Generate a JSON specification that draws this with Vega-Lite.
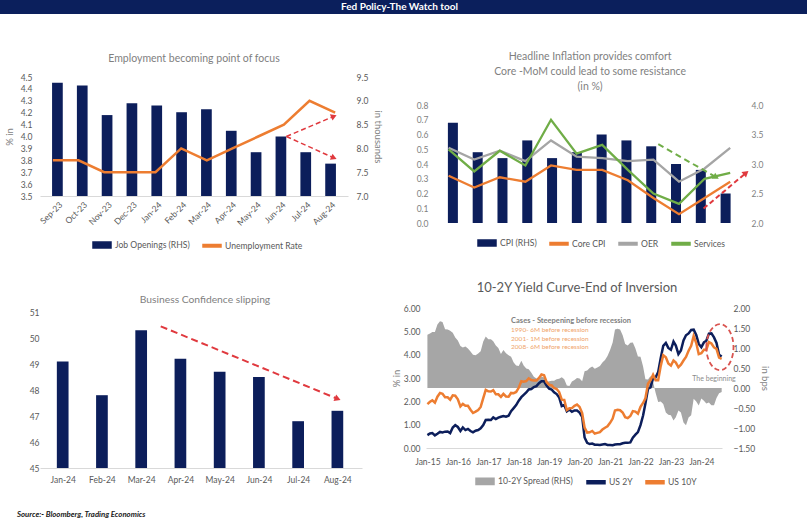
{
  "$schema": "https://vega.github.io/schema/vega-lite/v6.json",
  "padding": 0,
  "background": "white",
  "spacing": 0,
  "resolve": {"scale": {"x": "independent", "y": "independent", "color": "independent"}},
  "title": {"text": "Source:- Bloomberg, Trading Economics", "orient": "bottom", "anchor": "start", "frame": "bounds", "offset": 23, "dx": 17, "fontSize": 7.8, "fontStyle": "italic", "fontWeight": "bold", "color": "#1a1a1a", "font": "Lato"},
  "datasets": {
    "tl": [
      {"i": 1, "m": "Sep-23", "jo": 9.38, "ur": 3.8},
      {"i": 2, "m": "Oct-23", "jo": 9.32, "ur": 3.8},
      {"i": 3, "m": "Nov-23", "jo": 8.70, "ur": 3.7},
      {"i": 4, "m": "Dec-23", "jo": 8.95, "ur": 3.7},
      {"i": 5, "m": "Jan-24", "jo": 8.90, "ur": 3.7},
      {"i": 6, "m": "Feb-24", "jo": 8.76, "ur": 3.9},
      {"i": 7, "m": "Mar-24", "jo": 8.82, "ur": 3.8},
      {"i": 8, "m": "Apr-24", "jo": 8.37, "ur": 3.9},
      {"i": 9, "m": "May-24", "jo": 7.92, "ur": 4.0},
      {"i": 10, "m": "Jun-24", "jo": 8.25, "ur": 4.1},
      {"i": 11, "m": "Jul-24", "jo": 7.92, "ur": 4.3},
      {"i": 12, "m": "Aug-24", "jo": 7.68, "ur": 4.2}
    ],
    "tr": [
      {"i": 1, "cpi": 3.7}, {"i": 2, "cpi": 3.2}, {"i": 3, "cpi": 3.1}, {"i": 4, "cpi": 3.4},
      {"i": 5, "cpi": 3.1}, {"i": 6, "cpi": 3.2}, {"i": 7, "cpi": 3.5}, {"i": 8, "cpi": 3.4},
      {"i": 9, "cpi": 3.3}, {"i": 10, "cpi": 3.0}, {"i": 11, "cpi": 2.9}, {"i": 12, "cpi": 2.5}
    ],
    "trl": [
      {"i": 1, "s": "Core CPI", "v": 0.32}, {"i": 2, "s": "Core CPI", "v": 0.24}, {"i": 3, "s": "Core CPI", "v": 0.31}, {"i": 4, "s": "Core CPI", "v": 0.28},
      {"i": 5, "s": "Core CPI", "v": 0.39}, {"i": 6, "s": "Core CPI", "v": 0.36}, {"i": 7, "s": "Core CPI", "v": 0.36}, {"i": 8, "s": "Core CPI", "v": 0.29},
      {"i": 9, "s": "Core CPI", "v": 0.17}, {"i": 10, "s": "Core CPI", "v": 0.06}, {"i": 11, "s": "Core CPI", "v": 0.17}, {"i": 12, "s": "Core CPI", "v": 0.28},
      {"i": 1, "s": "OER", "v": 0.51}, {"i": 2, "s": "OER", "v": 0.43}, {"i": 3, "s": "OER", "v": 0.49}, {"i": 4, "s": "OER", "v": 0.42},
      {"i": 5, "s": "OER", "v": 0.56}, {"i": 6, "s": "OER", "v": 0.45}, {"i": 7, "s": "OER", "v": 0.44}, {"i": 8, "s": "OER", "v": 0.42},
      {"i": 9, "s": "OER", "v": 0.43}, {"i": 10, "s": "OER", "v": 0.28}, {"i": 11, "s": "OER", "v": 0.37}, {"i": 12, "s": "OER", "v": 0.51},
      {"i": 1, "s": "Services", "v": 0.50}, {"i": 2, "s": "Services", "v": 0.35}, {"i": 3, "s": "Services", "v": 0.49}, {"i": 4, "s": "Services", "v": 0.39},
      {"i": 5, "s": "Services", "v": 0.70}, {"i": 6, "s": "Services", "v": 0.47}, {"i": 7, "s": "Services", "v": 0.53}, {"i": 8, "s": "Services", "v": 0.36},
      {"i": 9, "s": "Services", "v": 0.20}, {"i": 10, "s": "Services", "v": 0.13}, {"i": 11, "s": "Services", "v": 0.30}, {"i": 12, "s": "Services", "v": 0.34}
    ],
    "bl": [
      {"i": 1, "v": 49.1}, {"i": 2, "v": 47.8}, {"i": 3, "v": 50.3}, {"i": 4, "v": 49.2},
      {"i": 5, "v": 48.7}, {"i": 6, "v": 48.5}, {"i": 7, "v": 46.8}, {"i": 8, "v": 47.2}
    ],
    "br": [
      {"d":"2015-01-01","y2":0.55,"y10":1.88,"sp":1.33},
      {"d":"2015-02-01","y2":0.62,"y10":1.98,"sp":1.36},
      {"d":"2015-03-01","y2":0.64,"y10":2.04,"sp":1.40},
      {"d":"2015-04-01","y2":0.54,"y10":1.94,"sp":1.40},
      {"d":"2015-05-01","y2":0.61,"y10":2.20,"sp":1.59},
      {"d":"2015-06-01","y2":0.69,"y10":2.36,"sp":1.67},
      {"d":"2015-07-01","y2":0.67,"y10":2.32,"sp":1.65},
      {"d":"2015-08-01","y2":0.70,"y10":2.17,"sp":1.47},
      {"d":"2015-09-01","y2":0.71,"y10":2.17,"sp":1.46},
      {"d":"2015-10-01","y2":0.64,"y10":2.07,"sp":1.43},
      {"d":"2015-11-01","y2":0.88,"y10":2.26,"sp":1.38},
      {"d":"2015-12-01","y2":0.98,"y10":2.24,"sp":1.26},
      {"d":"2016-01-01","y2":0.90,"y10":2.09,"sp":1.19},
      {"d":"2016-02-01","y2":0.73,"y10":1.78,"sp":1.05},
      {"d":"2016-03-01","y2":0.88,"y10":1.89,"sp":1.01},
      {"d":"2016-04-01","y2":0.77,"y10":1.81,"sp":1.04},
      {"d":"2016-05-01","y2":0.82,"y10":1.81,"sp":0.99},
      {"d":"2016-06-01","y2":0.73,"y10":1.64,"sp":0.91},
      {"d":"2016-07-01","y2":0.67,"y10":1.50,"sp":0.83},
      {"d":"2016-08-01","y2":0.74,"y10":1.56,"sp":0.82},
      {"d":"2016-09-01","y2":0.77,"y10":1.63,"sp":0.86},
      {"d":"2016-10-01","y2":0.84,"y10":1.76,"sp":0.92},
      {"d":"2016-11-01","y2":0.98,"y10":2.14,"sp":1.16},
      {"d":"2016-12-01","y2":1.20,"y10":2.49,"sp":1.29},
      {"d":"2017-01-01","y2":1.21,"y10":2.43,"sp":1.22},
      {"d":"2017-02-01","y2":1.20,"y10":2.42,"sp":1.22},
      {"d":"2017-03-01","y2":1.31,"y10":2.48,"sp":1.17},
      {"d":"2017-04-01","y2":1.24,"y10":2.30,"sp":1.06},
      {"d":"2017-05-01","y2":1.30,"y10":2.30,"sp":1.00},
      {"d":"2017-06-01","y2":1.34,"y10":2.19,"sp":0.85},
      {"d":"2017-07-01","y2":1.37,"y10":2.32,"sp":0.95},
      {"d":"2017-08-01","y2":1.34,"y10":2.21,"sp":0.87},
      {"d":"2017-09-01","y2":1.38,"y10":2.20,"sp":0.82},
      {"d":"2017-10-01","y2":1.58,"y10":2.36,"sp":0.78},
      {"d":"2017-11-01","y2":1.71,"y10":2.35,"sp":0.64},
      {"d":"2017-12-01","y2":1.84,"y10":2.40,"sp":0.56},
      {"d":"2018-01-01","y2":2.03,"y10":2.58,"sp":0.55},
      {"d":"2018-02-01","y2":2.18,"y10":2.86,"sp":0.68},
      {"d":"2018-03-01","y2":2.28,"y10":2.84,"sp":0.56},
      {"d":"2018-04-01","y2":2.38,"y10":2.87,"sp":0.49},
      {"d":"2018-05-01","y2":2.51,"y10":2.98,"sp":0.47},
      {"d":"2018-06-01","y2":2.53,"y10":2.91,"sp":0.38},
      {"d":"2018-07-01","y2":2.61,"y10":2.89,"sp":0.28},
      {"d":"2018-08-01","y2":2.65,"y10":2.89,"sp":0.24},
      {"d":"2018-09-01","y2":2.78,"y10":3.00,"sp":0.22},
      {"d":"2018-10-01","y2":2.86,"y10":3.15,"sp":0.29},
      {"d":"2018-11-01","y2":2.86,"y10":3.12,"sp":0.26},
      {"d":"2018-12-01","y2":2.68,"y10":2.83,"sp":0.15},
      {"d":"2019-01-01","y2":2.54,"y10":2.71,"sp":0.17},
      {"d":"2019-02-01","y2":2.50,"y10":2.68,"sp":0.18},
      {"d":"2019-03-01","y2":2.39,"y10":2.57,"sp":0.18},
      {"d":"2019-04-01","y2":2.31,"y10":2.53,"sp":0.22},
      {"d":"2019-05-01","y2":2.17,"y10":2.40,"sp":0.23},
      {"d":"2019-06-01","y2":1.80,"y10":2.07,"sp":0.27},
      {"d":"2019-07-01","y2":1.84,"y10":2.06,"sp":0.22},
      {"d":"2019-08-01","y2":1.57,"y10":1.63,"sp":0.06},
      {"d":"2019-09-01","y2":1.65,"y10":1.70,"sp":0.05},
      {"d":"2019-10-01","y2":1.55,"y10":1.71,"sp":0.16},
      {"d":"2019-11-01","y2":1.61,"y10":1.81,"sp":0.20},
      {"d":"2019-12-01","y2":1.61,"y10":1.86,"sp":0.25},
      {"d":"2020-01-01","y2":1.52,"y10":1.76,"sp":0.24},
      {"d":"2020-02-01","y2":1.33,"y10":1.50,"sp":0.17},
      {"d":"2020-03-01","y2":0.45,"y10":0.87,"sp":0.42},
      {"d":"2020-04-01","y2":0.22,"y10":0.66,"sp":0.44},
      {"d":"2020-05-01","y2":0.17,"y10":0.67,"sp":0.50},
      {"d":"2020-06-01","y2":0.19,"y10":0.73,"sp":0.54},
      {"d":"2020-07-01","y2":0.14,"y10":0.62,"sp":0.48},
      {"d":"2020-08-01","y2":0.14,"y10":0.65,"sp":0.51},
      {"d":"2020-09-01","y2":0.13,"y10":0.68,"sp":0.55},
      {"d":"2020-10-01","y2":0.15,"y10":0.79,"sp":0.64},
      {"d":"2020-11-01","y2":0.17,"y10":0.87,"sp":0.70},
      {"d":"2020-12-01","y2":0.13,"y10":0.93,"sp":0.80},
      {"d":"2021-01-01","y2":0.13,"y10":1.08,"sp":0.95},
      {"d":"2021-02-01","y2":0.12,"y10":1.26,"sp":1.14},
      {"d":"2021-03-01","y2":0.15,"y10":1.61,"sp":1.46},
      {"d":"2021-04-01","y2":0.16,"y10":1.64,"sp":1.48},
      {"d":"2021-05-01","y2":0.16,"y10":1.62,"sp":1.46},
      {"d":"2021-06-01","y2":0.20,"y10":1.52,"sp":1.32},
      {"d":"2021-07-01","y2":0.22,"y10":1.32,"sp":1.10},
      {"d":"2021-08-01","y2":0.22,"y10":1.28,"sp":1.06},
      {"d":"2021-09-01","y2":0.24,"y10":1.37,"sp":1.13},
      {"d":"2021-10-01","y2":0.44,"y10":1.58,"sp":1.14},
      {"d":"2021-11-01","y2":0.57,"y10":1.56,"sp":0.99},
      {"d":"2021-12-01","y2":0.68,"y10":1.47,"sp":0.79},
      {"d":"2022-01-01","y2":0.98,"y10":1.76,"sp":0.78},
      {"d":"2022-02-01","y2":1.39,"y10":1.93,"sp":0.54},
      {"d":"2022-03-01","y2":1.91,"y10":2.13,"sp":0.22},
      {"d":"2022-04-01","y2":2.54,"y10":2.75,"sp":0.21},
      {"d":"2022-05-01","y2":2.60,"y10":2.90,"sp":0.30},
      {"d":"2022-06-01","y2":2.99,"y10":3.14,"sp":0.15},
      {"d":"2022-07-01","y2":3.02,"y10":2.90,"sp":-0.12},
      {"d":"2022-08-01","y2":3.25,"y10":2.90,"sp":-0.35},
      {"d":"2022-09-01","y2":3.86,"y10":3.52,"sp":-0.34},
      {"d":"2022-10-01","y2":4.38,"y10":3.98,"sp":-0.40},
      {"d":"2022-11-01","y2":4.50,"y10":3.89,"sp":-0.61},
      {"d":"2022-12-01","y2":4.29,"y10":3.62,"sp":-0.67},
      {"d":"2023-01-01","y2":4.21,"y10":3.53,"sp":-0.68},
      {"d":"2023-02-01","y2":4.56,"y10":3.75,"sp":-0.81},
      {"d":"2023-03-01","y2":4.39,"y10":3.66,"sp":-0.73},
      {"d":"2023-04-01","y2":4.02,"y10":3.46,"sp":-0.56},
      {"d":"2023-05-01","y2":4.18,"y10":3.57,"sp":-0.61},
      {"d":"2023-06-01","y2":4.61,"y10":3.75,"sp":-0.86},
      {"d":"2023-07-01","y2":4.83,"y10":3.90,"sp":-0.93},
      {"d":"2023-08-01","y2":4.91,"y10":4.17,"sp":-0.74},
      {"d":"2023-09-01","y2":5.06,"y10":4.38,"sp":-0.68},
      {"d":"2023-10-01","y2":5.07,"y10":4.80,"sp":-0.27},
      {"d":"2023-11-01","y2":4.84,"y10":4.50,"sp":-0.34},
      {"d":"2023-12-01","y2":4.46,"y10":4.02,"sp":-0.44},
      {"d":"2024-01-01","y2":4.32,"y10":4.06,"sp":-0.26},
      {"d":"2024-02-01","y2":4.53,"y10":4.21,"sp":-0.32},
      {"d":"2024-03-01","y2":4.60,"y10":4.21,"sp":-0.39},
      {"d":"2024-04-01","y2":4.90,"y10":4.54,"sp":-0.36},
      {"d":"2024-05-01","y2":4.91,"y10":4.48,"sp":-0.43},
      {"d":"2024-06-01","y2":4.74,"y10":4.31,"sp":-0.43},
      {"d":"2024-07-01","y2":4.50,"y10":4.25,"sp":-0.25},
      {"d":"2024-08-01","y2":4.00,"y10":3.87,"sp":-0.13},
      {"d":"2024-09-01","y2":3.92,"y10":3.82,"sp":-0.10}
    ]
  },
  "vconcat": [
    {
      "width": 807, "height": 14,
      "view": {"fill": "#0b1f5c", "stroke": null},
      "data": {"values": [{"t": "Fed Policy-The  Watch tool"}]},
      "mark": {"type": "text", "color": "white", "fontSize": 10, "fontWeight": "bold", "font": "Lato", "dx": -4},
      "encoding": {"text": {"field": "t"}}
    },
    {
      "columns": 4, "spacing": 0, "bounds": "flush", "align": "each",
      "resolve": {"scale": {"x": "independent", "y": "independent", "color": "independent"}},
      "concat": [
        {"width": 40, "height": 63, "data": {"values": []}, "mark": "point"},
        {"width": 1, "height": 1, "data": {"values": []}, "mark": "point"},
        {"width": 64, "height": 1, "data": {"values": []}, "mark": "point"},
        {"width": 1, "height": 1, "data": {"values": []}, "mark": "point"},
        {"width": 1, "height": 1, "data": {"values": []}, "mark": "point"},
        {
          "width": 308, "height": 119,
          "title": {"text": "Employment becoming point of focus", "offset": 8.5},
          "resolve": {"scale": {"x": "independent", "y": "independent"}},
          "layer": [
            {
              "data": {"name": "tl"},
              "mark": {"type": "bar", "size": 10.7},
              "encoding": {
                "x": {"field": "i", "type": "quantitative", "scale": {"domain": [0.5, 12.5], "nice": false, "zero": false},
                  "axis": {"title": null, "values": [1,2,3,4,5,6,7,8,9,10,11,12], "labelExpr": "['Sep-23','Oct-23','Nov-23','Dec-23','Jan-24','Feb-24','Mar-24','Apr-24','May-24','Jun-24','Jul-24','Aug-24'][datum.value-1]", "labelAngle": -45, "labelPadding": 4}},
                "y": {"field": "jo", "type": "quantitative", "scale": {"domain": [7, 9.5], "nice": false, "zero": false},
                  "axis": {"orient": "right", "title": "in thousands", "values": [7, 7.5, 8, 8.5, 9, 9.5], "format": ".1f", "labelPadding": 8, "titlePadding": 5}},
                "y2": {"datum": 7},
                "color": {"datum": "Job Openings (RHS)", "type": "nominal",
                  "scale": {"domain": ["Job Openings (RHS)", "Unemployment Rate"], "range": ["#0c1e5b", "#ed7d31"]},
                  "legend": {"orient": "none", "legendX": 52, "legendY": 158, "direction": "horizontal", "title": null, "symbolSize": 324, "symbolType": "M-1,-0.33H1V0.33H-1Z", "labelOffset": 3, "columnPadding": 10,
                    "encode": {"symbols": {"update": {
                      "shape": {"signal": "datum.value=='Job Openings (RHS)'?'M-1,-0.33H1V0.33H-1Z':'M-1,-0.14H1V0.14H-1Z'"},
                      "fill": {"signal": "datum.value=='Job Openings (RHS)'?'#0c1e5b':'#ed7d31'"},
                      "stroke": {"value": "transparent"}, "opacity": {"value": 1}}}}}}
              }
            },
            {
              "data": {"name": "tl"},
              "mark": {"type": "line", "strokeWidth": 2.5},
              "encoding": {
                "x": {"field": "i", "type": "quantitative", "scale": {"domain": [0.5, 12.5], "nice": false, "zero": false}, "axis": null},
                "y": {"field": "ur", "type": "quantitative", "scale": {"domain": [3.5, 4.5], "nice": false, "zero": false},
                  "axis": {"title": "% in", "values": [3.5,3.6,3.7,3.8,3.9,4.0,4.1,4.2,4.3,4.4,4.5], "format": ".1f", "labelPadding": 8, "titlePadding": 6}},
                "color": {"datum": "Unemployment Rate", "type": "nominal",
                  "legend": {"orient": "none", "legendX": 52, "legendY": 158, "direction": "horizontal", "title": null, "symbolSize": 324, "symbolType": "M-1,-0.33H1V0.33H-1Z", "labelOffset": 3, "columnPadding": 10,
                    "encode": {"symbols": {"update": {
                      "shape": {"signal": "datum.value=='Job Openings (RHS)'?'M-1,-0.33H1V0.33H-1Z':'M-1,-0.14H1V0.14H-1Z'"},
                      "fill": {"signal": "datum.value=='Job Openings (RHS)'?'#0c1e5b':'#ed7d31'"},
                      "stroke": {"value": "transparent"}, "opacity": {"value": 1}}}}}}
              }
            },
            {
              "data": {"values": [{"x1": 10.1, "y1": 4.0, "x2": 11.95, "y2": 4.17}, {"x1": 10.1, "y1": 4.0, "x2": 11.95, "y2": 3.82}]},
              "mark": {"type": "rule", "color": "#e0393e", "strokeWidth": 1.5, "strokeDash": [5, 3]},
              "encoding": {
                "x": {"field": "x1", "type": "quantitative", "scale": {"domain": [0.5, 12.5], "nice": false, "zero": false}, "axis": null},
                "x2": {"field": "x2"},
                "y": {"field": "y1", "type": "quantitative", "scale": {"domain": [3.5, 4.5], "nice": false, "zero": false}, "axis": null},
                "y2": {"field": "y2"}
              }
            },
            {
              "data": {"values": [{"x": 11.95, "y": 4.17}]},
              "mark": {"type": "point", "shape": "triangle-right", "filled": true, "color": "#e0393e", "opacity": 1, "size": 45, "angle": -23},
              "encoding": {
                "x": {"field": "x", "type": "quantitative", "scale": {"domain": [0.5, 12.5], "nice": false, "zero": false}, "axis": null},
                "y": {"field": "y", "type": "quantitative", "scale": {"domain": [3.5, 4.5], "nice": false, "zero": false}, "axis": null}
              }
            },
            {
              "data": {"values": [{"x": 11.95, "y": 3.82}]},
              "mark": {"type": "point", "shape": "triangle-right", "filled": true, "color": "#e0393e", "opacity": 1, "size": 45, "angle": 23},
              "encoding": {
                "x": {"field": "x", "type": "quantitative", "scale": {"domain": [0.5, 12.5], "nice": false, "zero": false}, "axis": null},
                "y": {"field": "y", "type": "quantitative", "scale": {"domain": [3.5, 4.5], "nice": false, "zero": false}, "axis": null}
              }
            }
          ]
        },
        {"width": 1, "height": 1, "data": {"values": []}, "mark": "point"},
        {
          "width": 317, "height": 146,
          "title": {"text": ["Headline Inflation provides comfort", "Core -MoM could lead to some resistance", "(in %)"], "offset": -15, "lineHeight": 15, "dx": 5.6},
          "resolve": {"scale": {"x": "independent", "y": "independent"}},
          "layer": [
            {
              "data": {"name": "tr"},
              "mark": {"type": "bar", "size": 10},
              "encoding": {
                "x": {"field": "i", "type": "quantitative", "scale": {"domain": [0.117, 12.5], "nice": false, "zero": false}, "axis": null},
                "y": {"field": "cpi", "type": "quantitative", "scale": {"domain": [2, 4.475], "nice": false, "zero": false},
                  "axis": {"orient": "right", "title": null, "values": [2, 2.5, 3, 3.5, 4], "format": ".1f", "labelPadding": 8, "labelColor": "#7f7f7f"}},
                "y2": {"datum": 2},
                "color": {"datum": "CPI (RHS)", "type": "nominal",
                  "scale": {"domain": ["CPI (RHS)", "Core CPI", "OER", "Services"], "range": ["#0c1e5b", "#ed7d31", "#a5a5a5", "#70ad47"]},
                  "legend": {"orient": "none", "legendX": 51, "legendY": 156, "direction": "horizontal", "title": null, "symbolSize": 324, "symbolType": "M-1,-0.33H1V0.33H-1Z", "labelOffset": 3, "columnPadding": 10,
                    "encode": {"symbols": {"update": {
                      "shape": {"signal": "datum.value=='CPI (RHS)'?'M-1,-0.33H1V0.33H-1Z':'M-1,-0.14H1V0.14H-1Z'"},
                      "fill": {"signal": "datum.value=='CPI (RHS)'?'#0c1e5b':datum.value=='Core CPI'?'#ed7d31':datum.value=='OER'?'#a5a5a5':'#70ad47'"},
                      "stroke": {"value": "transparent"}, "opacity": {"value": 1}}}}}}
              }
            },
            {
              "data": {"name": "trl"},
              "mark": {"type": "line", "strokeWidth": 2.3},
              "encoding": {
                "x": {"field": "i", "type": "quantitative", "scale": {"domain": [0.117, 12.5], "nice": false, "zero": false}, "axis": null},
                "y": {"field": "v", "type": "quantitative", "scale": {"domain": [0, 0.99], "nice": false, "zero": false},
                  "axis": {"title": null, "values": [0,0.1,0.2,0.3,0.4,0.5,0.6,0.7,0.8], "format": ".1f", "labelPadding": -2, "labelColor": "#7f7f7f"}},
                "color": {"field": "s", "type": "nominal",
                  "legend": {"orient": "none", "legendX": 51, "legendY": 156, "direction": "horizontal", "title": null, "symbolSize": 324, "symbolType": "M-1,-0.33H1V0.33H-1Z", "labelOffset": 3, "columnPadding": 10,
                    "encode": {"symbols": {"update": {
                      "shape": {"signal": "datum.value=='CPI (RHS)'?'M-1,-0.33H1V0.33H-1Z':'M-1,-0.14H1V0.14H-1Z'"},
                      "fill": {"signal": "datum.value=='CPI (RHS)'?'#0c1e5b':datum.value=='Core CPI'?'#ed7d31':datum.value=='OER'?'#a5a5a5':'#70ad47'"},
                      "stroke": {"value": "transparent"}, "opacity": {"value": 1}}}}}}
              }
            },
            {
              "data": {"values": [{"x1": 9.19, "y1": 0.535, "x2": 11.45, "y2": 0.31}]},
              "mark": {"type": "rule", "color": "#70ad47", "strokeWidth": 2, "strokeDash": [6, 4]},
              "encoding": {
                "x": {"field": "x1", "type": "quantitative", "scale": {"domain": [0.117, 12.5], "nice": false, "zero": false}, "axis": null},
                "x2": {"field": "x2"},
                "y": {"field": "y1", "type": "quantitative", "scale": {"domain": [0, 0.99], "nice": false, "zero": false}, "axis": null},
                "y2": {"field": "y2"}
              }
            },
            {
              "data": {"values": [{"x": 11.45, "y": 0.31}]},
              "mark": {"type": "point", "shape": "triangle-right", "filled": true, "color": "#70ad47", "opacity": 1, "size": 50, "angle": 30},
              "encoding": {
                "x": {"field": "x", "type": "quantitative", "scale": {"domain": [0.117, 12.5], "nice": false, "zero": false}, "axis": null},
                "y": {"field": "y", "type": "quantitative", "scale": {"domain": [0, 0.99], "nice": false, "zero": false}, "axis": null}
              }
            },
            {
              "data": {"values": [{"x1": 10.96, "y1": 0.098, "x2": 12.62, "y2": 0.34}]},
              "mark": {"type": "rule", "color": "#e0393e", "strokeWidth": 2, "strokeDash": [5, 3]},
              "encoding": {
                "x": {"field": "x1", "type": "quantitative", "scale": {"domain": [0.117, 12.5], "nice": false, "zero": false}, "axis": null},
                "x2": {"field": "x2"},
                "y": {"field": "y1", "type": "quantitative", "scale": {"domain": [0, 0.99], "nice": false, "zero": false}, "axis": null},
                "y2": {"field": "y2"}
              }
            },
            {
              "data": {"values": [{"x": 12.62, "y": 0.34}]},
              "mark": {"type": "point", "shape": "triangle-right", "filled": true, "color": "#e0393e", "opacity": 1, "size": 50, "angle": -40},
              "encoding": {
                "x": {"field": "x", "type": "quantitative", "scale": {"domain": [0.117, 12.5], "nice": false, "zero": false}, "axis": null},
                "y": {"field": "y", "type": "quantitative", "scale": {"domain": [0, 0.99], "nice": false, "zero": false}, "axis": null}
              }
            }
          ]
        },
        {"width": 1, "height": 85, "data": {"values": []}, "mark": "point"},
        {"width": 1, "height": 1, "data": {"values": []}, "mark": "point"},
        {"width": 1, "height": 1, "data": {"values": []}, "mark": "point"},
        {"width": 1, "height": 1, "data": {"values": []}, "mark": "point"},
        {"width": 1, "height": 1, "data": {"values": []}, "mark": "point"},
        {
          "width": 322, "height": 160,
          "title": {"text": "Business Confidence slipping", "offset": 3, "dx": 4, "fontSize": 10.3},
          "resolve": {"scale": {"x": "independent", "y": "independent"}},
          "layer": [
            {
              "data": {"name": "bl"},
              "mark": {"type": "bar", "size": 11.7, "color": "#0c1e5b"},
              "encoding": {
                "x": {"field": "i", "type": "quantitative", "scale": {"domain": [0.549, 8.5], "nice": false, "zero": false},
                  "axis": {"title": null, "values": [1,2,3,4,5,6,7,8], "labelExpr": "['Jan-24','Feb-24','Mar-24','Apr-24','May-24','Jun-24','Jul-24','Aug-24'][datum.value-1]", "labelAngle": 0, "labelPadding": 7}},
                "y": {"field": "v", "type": "quantitative", "scale": {"domain": [45, 51.154], "nice": false, "zero": false},
                  "axis": {"title": null, "values": [45,46,47,48,49,50,51], "labelPadding": 1}},
                "y2": {"datum": 45}
              }
            },
            {
              "data": {"values": [{"x1": 3.53, "y1": 50.45, "x2": 7.9, "y2": 47.66}]},
              "mark": {"type": "rule", "color": "#e0393e", "strokeWidth": 2, "strokeDash": [7, 4]},
              "encoding": {
                "x": {"field": "x1", "type": "quantitative", "scale": {"domain": [0.549, 8.5], "nice": false, "zero": false}, "axis": null},
                "x2": {"field": "x2"},
                "y": {"field": "y1", "type": "quantitative", "scale": {"domain": [45, 51.154], "nice": false, "zero": false}, "axis": null},
                "y2": {"field": "y2"}
              }
            },
            {
              "data": {"values": [{"x": 7.9, "y": 47.66}]},
              "mark": {"type": "point", "shape": "triangle-right", "filled": true, "color": "#e0393e", "opacity": 1, "size": 50, "angle": 22},
              "encoding": {
                "x": {"field": "x", "type": "quantitative", "scale": {"domain": [0.549, 8.5], "nice": false, "zero": false}, "axis": null},
                "y": {"field": "y", "type": "quantitative", "scale": {"domain": [45, 51.154], "nice": false, "zero": false}, "axis": null}
              }
            }
          ]
        },
        {"width": 1, "height": 1, "data": {"values": []}, "mark": "point"},
        {
          "width": 296, "height": 140,
          "title": {"text": "10-2Y Yield Curve-End of Inversion", "offset": 9.5, "dx": 3, "fontSize": 13, "color": "#595959"},
          "resolve": {"scale": {"x": "independent", "y": "independent"}},
          "layer": [
            {
              "data": {"name": "br"},
              "mark": {"type": "area", "opacity": 1},
              "encoding": {
                "x": {"field": "d", "type": "temporal",
                  "scale": {"domain": [{"year": 2014, "month": 12, "date": 15}, {"year": 2024, "month": 9, "date": 5}], "nice": false},
                  "axis": {"title": null, "format": "%b-%y", "labelPadding": 9,
                    "values": [{"year": 2015, "month": 1, "date": 1}, {"year": 2016, "month": 1, "date": 1}, {"year": 2017, "month": 1, "date": 1}, {"year": 2018, "month": 1, "date": 1}, {"year": 2019, "month": 1, "date": 1}, {"year": 2020, "month": 1, "date": 1}, {"year": 2021, "month": 1, "date": 1}, {"year": 2022, "month": 1, "date": 1}, {"year": 2023, "month": 1, "date": 1}, {"year": 2024, "month": 1, "date": 1}]}},
                "y": {"field": "sp", "type": "quantitative", "scale": {"domain": [-1.5, 2], "nice": false, "zero": false},
                  "axis": {"orient": "right", "title": "in bps", "values": [-1.5, -1, -0.5, 0, 0.5, 1, 1.5, 2], "format": ".2f", "labelPadding": 11, "titlePadding": 5}},
                "y2": {"datum": 0},
                "color": {"datum": "10-2Y Spread (RHS)", "type": "nominal",
                  "scale": {"domain": ["10-2Y Spread (RHS)", "US 2Y", "US 10Y"], "range": ["#a6a6a6", "#0c1e5b", "#ed7d31"]},
                  "legend": {"orient": "none", "legendX": 49, "legendY": 163, "direction": "horizontal", "title": null, "symbolSize": 324, "symbolType": "M-1,-0.36H1V0.36H-1Z", "labelOffset": 3, "columnPadding": 10,
                    "encode": {"symbols": {"update": {
                      "shape": {"signal": "datum.value=='10-2Y Spread (RHS)'?'M-1,-0.36H1V0.36H-1Z':'M-1,-0.16H1V0.16H-1Z'"},
                      "fill": {"signal": "datum.value=='10-2Y Spread (RHS)'?'#a6a6a6':datum.value=='US 2Y'?'#0c1e5b':'#ed7d31'"},
                      "stroke": {"value": "transparent"}, "opacity": {"value": 1}}}}}}
              }
            },
            {
              "data": {"name": "br"},
              "mark": {"type": "line", "strokeWidth": 2.5},
              "encoding": {
                "x": {"field": "d", "type": "temporal", "scale": {"domain": [{"year": 2014, "month": 12, "date": 15}, {"year": 2024, "month": 9, "date": 5}], "nice": false}, "axis": null},
                "y": {"field": "y2", "type": "quantitative", "scale": {"domain": [0, 6], "nice": false, "zero": false},
                  "axis": {"title": "% in", "values": [0, 1, 2, 3, 4, 5, 6], "format": ".2f", "labelPadding": 6, "titlePadding": 2}},
                "color": {"datum": "US 2Y", "type": "nominal",
                  "legend": {"orient": "none", "legendX": 49, "legendY": 163, "direction": "horizontal", "title": null, "symbolSize": 324, "symbolType": "M-1,-0.36H1V0.36H-1Z", "labelOffset": 3, "columnPadding": 10,
                    "encode": {"symbols": {"update": {
                      "shape": {"signal": "datum.value=='10-2Y Spread (RHS)'?'M-1,-0.36H1V0.36H-1Z':'M-1,-0.16H1V0.16H-1Z'"},
                      "fill": {"signal": "datum.value=='10-2Y Spread (RHS)'?'#a6a6a6':datum.value=='US 2Y'?'#0c1e5b':'#ed7d31'"},
                      "stroke": {"value": "transparent"}, "opacity": {"value": 1}}}}}}
              }
            },
            {
              "data": {"name": "br"},
              "mark": {"type": "line", "strokeWidth": 2.5},
              "encoding": {
                "x": {"field": "d", "type": "temporal", "scale": {"domain": [{"year": 2014, "month": 12, "date": 15}, {"year": 2024, "month": 9, "date": 5}], "nice": false}, "axis": null},
                "y": {"field": "y10", "type": "quantitative", "scale": {"domain": [0, 6], "nice": false, "zero": false}, "axis": null},
                "color": {"datum": "US 10Y", "type": "nominal",
                  "legend": {"orient": "none", "legendX": 49, "legendY": 163, "direction": "horizontal", "title": null, "symbolSize": 324, "symbolType": "M-1,-0.36H1V0.36H-1Z", "labelOffset": 3, "columnPadding": 10,
                    "encode": {"symbols": {"update": {
                      "shape": {"signal": "datum.value=='10-2Y Spread (RHS)'?'M-1,-0.36H1V0.36H-1Z':'M-1,-0.16H1V0.16H-1Z'"},
                      "fill": {"signal": "datum.value=='10-2Y Spread (RHS)'?'#a6a6a6':datum.value=='US 2Y'?'#0c1e5b':'#ed7d31'"},
                      "stroke": {"value": "transparent"}, "opacity": {"value": 1}}}}}}
              }
            },
            {
              "data": {"values": [{"d": "2017-10-01", "v": 5.46, "t": "Cases - Steepening before recession"}]},
              "mark": {"type": "text", "align": "left", "fontSize": 7.5, "fontWeight": "bold", "color": "#808080"},
              "encoding": {
                "x": {"field": "d", "type": "temporal", "scale": {"domain": [{"year": 2014, "month": 12, "date": 15}, {"year": 2024, "month": 9, "date": 5}], "nice": false}, "axis": null},
                "y": {"field": "v", "type": "quantitative", "scale": {"domain": [0, 6], "nice": false, "zero": false}, "axis": null},
                "text": {"field": "t"}
              }
            },
            {
              "data": {"values": [
                {"d": "2017-10-01", "v": 5.06, "t": "1990-  6M before recession"},
                {"d": "2017-10-01", "v": 4.68, "t": "2001-  1M before recession"},
                {"d": "2017-10-01", "v": 4.33, "t": "2008- 6M before recession"}
              ]},
              "mark": {"type": "text", "align": "left", "fontSize": 6.5, "color": "#f0a36a"},
              "encoding": {
                "x": {"field": "d", "type": "temporal", "scale": {"domain": [{"year": 2014, "month": 12, "date": 15}, {"year": 2024, "month": 9, "date": 5}], "nice": false}, "axis": null},
                "y": {"field": "v", "type": "quantitative", "scale": {"domain": [0, 6], "nice": false, "zero": false}, "axis": null},
                "text": {"field": "t"}
              }
            },
            {
              "data": {"values": [{"d": "2024-06-01", "v": 2.96, "t": "The beginning"}]},
              "mark": {"type": "text", "align": "center", "fontSize": 7, "color": "#8c8c8c"},
              "encoding": {
                "x": {"field": "d", "type": "temporal", "scale": {"domain": [{"year": 2014, "month": 12, "date": 15}, {"year": 2024, "month": 9, "date": 5}], "nice": false}, "axis": null},
                "y": {"field": "v", "type": "quantitative", "scale": {"domain": [0, 6], "nice": false, "zero": false}, "axis": null},
                "text": {"field": "t"}
              }
            },
            {
              "data": {"values": [{"d": "2024-08-11", "v": 4.32}]},
              "mark": {"type": "point", "shape": "M-0.59,0A0.59,1 0 1,1 0.59,0A0.59,1 0 1,1 -0.59,0Z", "size": 2116, "filled": false, "stroke": "#d9534f", "strokeWidth": 1.8, "strokeDash": [5, 3], "opacity": 1},
              "encoding": {
                "x": {"field": "d", "type": "temporal", "scale": {"domain": [{"year": 2014, "month": 12, "date": 15}, {"year": 2024, "month": 9, "date": 5}], "nice": false}, "axis": null},
                "y": {"field": "v", "type": "quantitative", "scale": {"domain": [0, 6], "nice": false, "zero": false}, "axis": null}
              }
            }
          ]
        }
      ]
    }
  ],
  "config": {
    "font": "Lato",
    "view": {"stroke": null},
    "concat": {"spacing": 0},
    "axis": {"labelFont": "Lato", "labelFontSize": 8.5, "labelColor": "#595959", "labelOverlap": false, "ticks": false, "grid": false, "domain": false, "titleFont": "Lato", "titleFontSize": 9.5, "titleFontWeight": "normal", "titleColor": "#7f7f7f"},
    "axisX": {"domain": true, "domainColor": "#d9d9d9"},
    "title": {"font": "Lato", "fontSize": 10.5, "fontWeight": "normal", "color": "#7f7f7f", "frame": "group"},
    "legend": {"labelFont": "Lato", "labelFontSize": 8.6, "labelColor": "#595959"}
  }
}
